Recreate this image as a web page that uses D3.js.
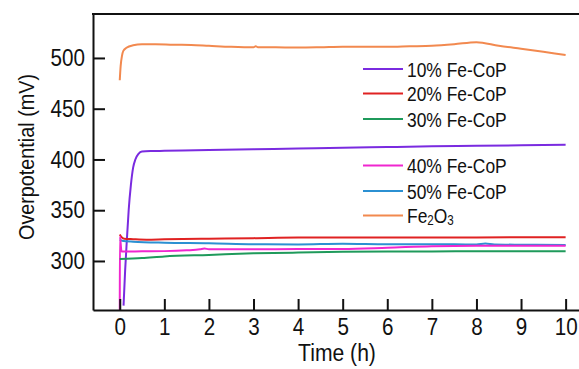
<!DOCTYPE html>
<html>
<head>
<meta charset="utf-8">
<script src="https://cdn.jsdelivr.net/npm/d3@7"></script>
<style>
  html, body { margin: 0; padding: 0; background: #fff; }
  svg { display: block; }
  text { font-family: "Liberation Sans", Arial, sans-serif; fill: #111; }
</style>
</head>
<body>
<svg id="chart" width="579" height="369"></svg>
<script>
// ---- data ----
const seriesNames = ["10% Fe-CoP", "20% Fe-CoP", "30% Fe-CoP", "40% Fe-CoP", "50% Fe-CoP", "Fe2O3"];
const seriesColors = ["#7A2BE0", "#E02222", "#1F9A5B", "#F026CF", "#2B90D2", "#F2894F"];

const t10 = [0.085, 0.12, 0.16, 0.2, 0.25, 0.3, 0.35, 0.42, 0.5, 0.7, 1, 2, 3, 4, 5, 6, 7, 8, 9, 10];
const v10 = [256, 290, 321, 350, 375, 392, 400, 405.5, 407.8, 408.3, 408.5, 409.2, 410, 410.8, 411.5, 412.2, 413, 413.5, 414, 414.5];

const t20 = [0, 0.03, 0.1, 0.3, 0.6, 1, 2, 3, 4, 5, 6, 7, 8, 9, 10];
const v20 = [326, 324, 322, 321.5, 321, 321.3, 322, 322.5, 323, 323, 323, 323.2, 323.2, 323.3, 323.4];

const t30 = [0, 0.5, 1, 2, 3, 4, 5, 6, 7, 8, 9, 10];
const v30 = [302, 303, 304.5, 306, 307.5, 308.3, 309, 309.3, 309.4, 309.5, 309.5, 309.5];

const t40 = [0, 0.004, 0.04, 0.5, 1, 1.5, 1.8, 1.9, 2, 2.5, 3, 4, 5, 6, 7, 8, 9, 10];
const v40 = [251, 324, 309.3, 309.5, 309.7, 310.5, 311.5, 312.3, 311.5, 311.5, 311.5, 311.8, 311.8, 313, 314.5, 315, 315, 315];

const t50 = [0, 0.05, 0.3, 1, 2, 3, 4, 5, 6, 7, 8, 8.2, 8.4, 9, 10];
const v50 = [321, 320, 319, 318, 317.5, 316.5, 316.3, 317, 316.5, 316.5, 316.3, 317.3, 316.3, 316, 315.8];

const tFe = [0, 0.02, 0.05, 0.08, 0.15, 0.3, 0.5, 0.8, 1.2, 1.6, 2, 2.5, 3, 3.05, 3.1, 3.5, 4, 4.5, 5, 5.5, 6, 6.5, 7, 7.5, 8, 8.5, 9, 9.5, 10];
const vFe = [478, 492, 502, 507, 510, 512.5, 513.5, 513.5, 513, 512.8, 512, 511, 510.5, 511.5, 510.6, 510.5, 510.2, 510.5, 511, 511, 511, 511.5, 512, 513.5, 515.5, 512, 509, 506, 503];

const xTicks = [0, 1, 2, 3, 4, 5, 6, 7, 8, 9, 10];
const yTicks = [300, 350, 400, 450, 500];

const xTimes = [t10, t20, t30, t40, t50, tFe];
const yVals = [v10, v20, v30, v40, v50, vFe];

// ---- drawing ----
const svg = d3.select("#chart");
const mLeft = 93, mRight = 579, mTop = 14, mBottom = 310;

const x = d3.scaleLinear().domain([-0.6, 10.3]).range([mLeft, mRight]);
const y = d3.scaleLinear().domain([251.7, 543.3]).range([mBottom, mTop]);

// lines
const line = d3.line().x(d => x(d[0])).y(d => y(d[1])).curve(d3.curveMonotoneX);
svg.append("clipPath").attr("id", "clip").append("rect")
  .attr("x", mLeft).attr("y", mTop).attr("width", mRight - mLeft).attr("height", mBottom - mTop);

const order = [5, 0, 1, 4, 3, 2];
const gLines = svg.append("g").attr("clip-path", "url(#clip)");
order.forEach(i => {
  const pts = xTimes[i].map((t, k) => [t, yVals[i][k]]);
  gLines.append("path").attr("d", line(pts))
    .attr("fill", "none").attr("stroke", seriesColors[i])
    .attr("stroke-width", 2).attr("stroke-linejoin", "round");
});

// axes
const xAxis = d3.axisBottom(x).tickValues(xTicks).tickSizeInner(-11).tickSizeOuter(0).tickPadding(8);
const gx = svg.append("g").attr("transform", `translate(0,${mBottom})`).call(xAxis);
gx.select(".domain").attr("stroke", "#111").attr("stroke-width", 2);
gx.selectAll(".tick line").attr("stroke", "#111").attr("stroke-width", 2);
gx.selectAll(".tick text").attr("font-size", 24).attr("font-family", "Liberation Sans, Arial, sans-serif")
  .attr("fill", "#111").attr("transform", "scale(0.86,1)");

const ySx = 0.86;
const yAxis = d3.axisLeft(y).tickValues(yTicks).tickSizeInner(-12).tickSizeOuter(0).tickPadding(8);
const gy = svg.append("g").attr("transform", `translate(${mLeft},0)`).call(yAxis);
gy.select(".domain").attr("stroke", "#111").attr("stroke-width", 2);
gy.selectAll(".tick line").attr("stroke", "#111").attr("stroke-width", 2);
gy.selectAll(".tick text").attr("font-size", 24).attr("font-family", "Liberation Sans, Arial, sans-serif")
  .attr("fill", "#111").attr("x", -8 / ySx).attr("transform", `scale(${ySx},1)`);

// top border
svg.append("line").attr("x1", mLeft - 1).attr("x2", mRight).attr("y1", mTop).attr("y2", mTop)
  .attr("stroke", "#111").attr("stroke-width", 2);

// axis titles
svg.append("text").attr("transform", "translate(337,361) scale(0.88,1)").attr("text-anchor", "middle")
  .attr("font-size", 24).text("Time (h)");
svg.append("text").attr("transform", "translate(34,157) rotate(-90) scale(0.9,1)").attr("text-anchor", "middle")
  .attr("font-size", 22).text("Overpotential (mV)");

// legend
const legY = [69, 93.5, 119, 165.5, 191, 215.5];
const leg = svg.append("g");
seriesNames.forEach((name, i) => {
  leg.append("line").attr("x1", 363).attr("x2", 403).attr("y1", legY[i]).attr("y2", legY[i])
    .attr("stroke", seriesColors[i]).attr("stroke-width", 2);
  const tx = leg.append("text").attr("transform", `translate(407,${legY[i]}) scale(0.83,1)`)
    .attr("dy", "0.36em").attr("font-size", 21);
  if (name === "Fe2O3") {
    tx.append("tspan").text("Fe");
    tx.append("tspan").attr("font-size", 14).attr("dy", 2).text("2");
    tx.append("tspan").attr("dy", -2).text("O");
    tx.append("tspan").attr("font-size", 14).attr("dy", 2).text("3");
  } else {
    tx.text(name);
  }
});
</script>
</body>
</html>
